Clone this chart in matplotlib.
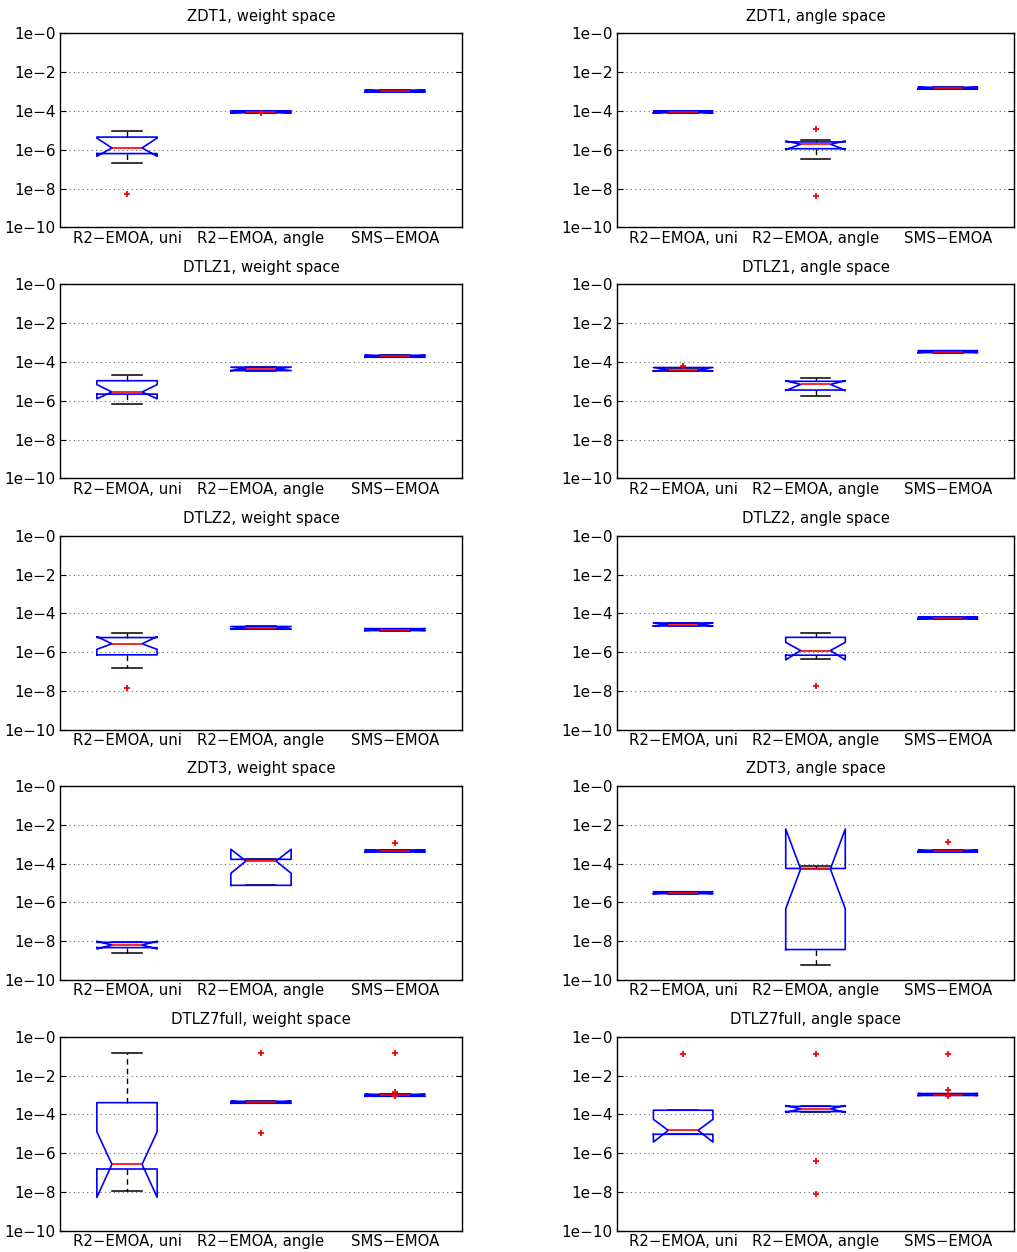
import numpy as np
import matplotlib
matplotlib.use('Agg')
import matplotlib.pyplot as plt

# panel titles, row by row (left = weight space, right = angle space)
TITULOS = ['ZDT1, weight space', 'ZDT1, angle space',
           'DTLZ1, weight space', 'DTLZ1, angle space',
           'DTLZ2, weight space', 'DTLZ2, angle space',
           'ZDT3, weight space', 'ZDT3, angle space',
           'DTLZ7full, weight space', 'DTLZ7full, angle space']
ALGORITMOS = ['R2\u2212EMOA, uni', 'R2\u2212EMOA, angle', 'SMS\u2212EMOA']

# box statistics as log10 values, one triple per panel (uni, angle, SMS)
LOG_MED = [[-5.91, -4.05, -2.98], [-4.05, -5.72, -2.83],
           [-5.55, -4.36, -3.71], [-4.40, -5.16, -3.47],
           [-5.57, -4.78, -4.84], [-4.58, -5.92, -4.24],
           [-8.20, -3.87, -3.35], [-5.50, -4.28, -3.36],
           [-6.58, -3.38, -3.02], [-4.83, -3.72, -2.98]]
LOG_Q1 = [[-6.20, -4.10, -3.03], [-4.10, -5.95, -2.88],
          [-5.66, -4.45, -3.76], [-4.47, -5.45, -3.52],
          [-6.14, -4.82, -4.89], [-4.65, -6.16, -4.29],
          [-8.33, -5.12, -3.40], [-5.55, -8.43, -3.41],
          [-6.82, -3.43, -3.07], [-5.03, -3.86, -3.03]]
LOG_Q3 = [[-5.35, -4.00, -2.93], [-4.00, -5.60, -2.78],
          [-4.97, -4.27, -3.66], [-4.29, -5.00, -3.42],
          [-5.25, -4.68, -4.79], [-4.50, -5.24, -4.19],
          [-8.06, -3.78, -3.30], [-5.45, -4.25, -3.31],
          [-3.40, -3.33, -2.97], [-3.79, -3.59, -2.93]]
LOG_NOTCH_LO = [[-6.34, -4.10, -3.03], [-4.10, -6.00, -2.88],
                [-5.90, -4.45, -3.76], [-4.47, -5.48, -3.52],
                [-5.86, -4.82, -4.89], [-4.65, -6.40, -4.29],
                [-8.40, -4.50, -3.40], [-5.55, -6.33, -3.41],
                [-8.28, -3.43, -3.07], [-5.43, -3.90, -3.03]]
LOG_NOTCH_HI = [[-5.40, -4.00, -2.93], [-4.00, -5.55, -2.78],
                [-5.17, -4.27, -3.66], [-4.29, -4.97, -3.42],
                [-5.20, -4.68, -4.79], [-4.50, -5.50, -4.19],
                [-8.00, -3.26, -3.30], [-5.45, -2.22, -3.31],
                [-4.90, -3.33, -2.97], [-4.26, -3.55, -2.93]]
LOG_WHISK_LO = [[-6.69, -4.10, -3.03], [-4.10, -6.47, -2.88],
                [-6.19, -4.45, -3.76], [-4.47, -5.74, -3.52],
                [-6.83, -4.82, -4.89], [-4.65, -6.37, -4.29],
                [-8.63, -5.12, -3.40], [-5.55, -9.21, -3.41],
                [-7.96, -3.43, -3.07], [-5.03, -3.86, -3.03]]
LOG_WHISK_HI = [[-5.05, -4.00, -2.93], [-4.00, -5.52, -2.78],
                [-4.66, -4.27, -3.66], [-4.29, -4.84, -3.42],
                [-5.03, -4.68, -4.79], [-4.50, -5.03, -4.19],
                [-8.06, -3.76, -3.30], [-5.45, -4.14, -3.31],
                [-0.82, -3.33, -2.97], [-3.79, -3.59, -2.93]]
LOG_OUTLIERS = [[[-8.29], [-4.13], []], [[], [-4.91, -8.40], []],
                [[], [], []], [[-4.22], [], []],
                [[-7.86], [], []], [[], [-7.75], []],
                [[], [], [-2.92]], [[], [], [-2.88]],
                [[], [-0.82, -4.97], [-0.82, -2.85, -3.06]],
                [[-0.91], [-0.91, -6.41, -8.12], [-0.91, -2.74, -3.07]]]

W, H = 1017, 1252
TOPOS = [33.3, 284.3, 535.7, 786.0, 1036.7]
ALTURA = 194.0
COLUNAS = [(60.0, 402.0), (617.0, 397.0)]

plt.rcParams['font.family'] = 'DejaVu Sans'
fig = plt.figure(figsize=(W / 100, H / 100), dpi=100)

for i, titulo in enumerate(TITULOS):
    linha, col = divmod(i, 2)
    x0, larg = COLUNAS[col]
    ax = fig.add_axes([x0 / W, 1 - (TOPOS[linha] + ALTURA) / H, larg / W, ALTURA / H])

    stats = []
    for j, nome in enumerate(ALGORITMOS):
        stats.append(dict(
            med=10 ** LOG_MED[i][j], q1=10 ** LOG_Q1[i][j], q3=10 ** LOG_Q3[i][j],
            cilo=10 ** LOG_NOTCH_LO[i][j], cihi=10 ** LOG_NOTCH_HI[i][j],
            whislo=10 ** LOG_WHISK_LO[i][j], whishi=10 ** LOG_WHISK_HI[i][j],
            fliers=10 ** np.array(LOG_OUTLIERS[i][j], dtype=float),
            label=nome))

    # caps under the box, like the matlab output (flat boxes stay blue)
    ax.bxp(stats, positions=[1, 2, 3], widths=0.45, shownotches=True,
           boxprops=dict(color='blue', linewidth=1.2, zorder=2.2),
           medianprops=dict(color='red', linewidth=1.2, zorder=2.3),
           whiskerprops=dict(color='black', linestyle=(0, (4, 3)), linewidth=1.0, zorder=2.0),
           capprops=dict(color='black', linewidth=1.1, zorder=2.1),
           flierprops=dict(marker='+', markeredgecolor='red', markersize=5,
                           markeredgewidth=1.3, linestyle='none', zorder=2.4))

    ax.set_yscale('log')
    ax.set_ylim(1e-10, 1)
    ax.set_xlim(0.5, 3.5)
    exps = np.arange(-10, 1, 2)
    ax.set_yticks(10.0 ** exps)
    ax.set_yticklabels(['1e\u2212%d' % (-e) for e in exps])
    ax.yaxis.set_minor_locator(matplotlib.ticker.NullLocator())
    ax.tick_params(axis='y', direction='in', length=4, width=0.8, right=True,
                   labelsize=11, pad=3)
    ax.tick_params(axis='x', length=0, labelsize=10.7, pad=2.5)
    ax.yaxis.grid(True, linestyle=(0, (1, 3)), color='0.4', linewidth=0.8)
    for sp in ax.spines.values():
        sp.set_linewidth(1.0)
    ax.set_title(titulo, fontsize=10.7, pad=9)

plt.savefig('out.png', dpi=100)
